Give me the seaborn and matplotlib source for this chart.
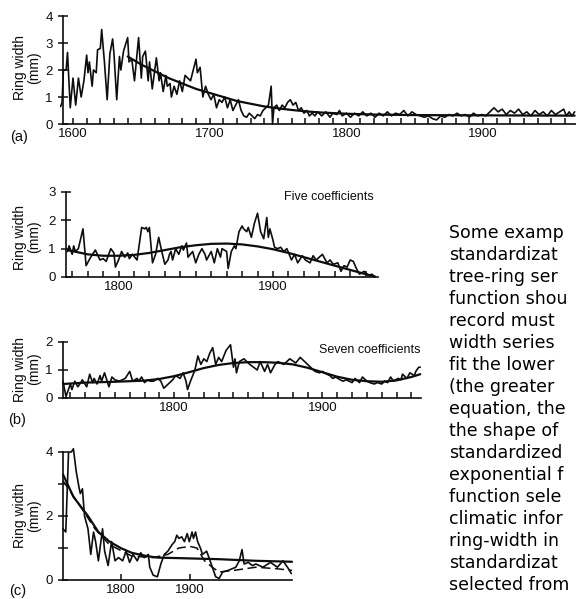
import matplotlib
matplotlib.use("Agg")
import matplotlib.pyplot as plt
import seaborn as sns
import pandas as pd
from matplotlib.ticker import FixedLocator, NullFormatter

# ---------------------------------------------------------------- data
# (a) long ring-width series with a negative-exponential growth curve
a_years = [1591, 1592, 1593, 1595, 1596, 1598, 1600, 1602, 1604, 1606, 1608, 1610,
           1611, 1612, 1614, 1615, 1617, 1618, 1620, 1621, 1623, 1625, 1627, 1629,
           1630, 1632, 1634, 1635, 1637, 1640, 1641, 1643, 1645, 1648, 1650, 1651,
           1653, 1655, 1656, 1658, 1661, 1663, 1664, 1666, 1668, 1669, 1671, 1672,
           1674, 1676, 1678, 1680, 1682, 1684, 1686, 1688, 1690, 1691, 1693, 1695,
           1697, 1699, 1701, 1703, 1705, 1707, 1709, 1711, 1713, 1715, 1717, 1719,
           1721, 1723, 1725, 1727, 1729, 1731, 1733, 1735, 1737, 1739, 1741, 1743,
           1745, 1746, 1747, 1749, 1751, 1753, 1755, 1757, 1759, 1761, 1763, 1765,
           1767, 1769, 1771, 1773, 1775, 1777, 1779, 1782, 1785, 1788, 1790, 1793,
           1795, 1797, 1800, 1803, 1806, 1809, 1812, 1815, 1818, 1821, 1824, 1827,
           1830, 1833, 1836, 1839, 1842, 1845, 1848, 1851, 1854, 1857, 1860, 1863,
           1866, 1869, 1872, 1875, 1878, 1881, 1884, 1887, 1890, 1893, 1896, 1899,
           1902, 1905, 1908, 1911, 1914, 1917, 1920, 1923, 1926, 1929, 1932, 1935,
           1938, 1941, 1944, 1947, 1950, 1953, 1956, 1959, 1961, 1963, 1965, 1967]
a_width = [0.65, 0.8, 2.0, 2.0, 2.65, 0.6, 1.7, 0.7, 1.7, 1.0, 1.6, 2.55,
           1.9, 2.3, 1.4, 2.0, 1.9, 2.75, 2.8, 3.5, 2.3, 0.9, 2.6, 3.15,
           2.6, 0.9, 2.5, 2.0, 2.7, 3.2, 2.3, 2.4, 1.6, 3.2, 1.7, 2.5,
           2.7, 1.6, 2.3, 1.3, 2.45, 1.6, 1.9, 1.2, 1.8, 1.4, 1.5, 1.0,
           1.4, 1.1, 1.6, 1.2, 1.8, 1.7, 1.6, 2.0, 2.4, 1.9, 2.1, 1.0,
           1.4, 1.1, 0.9, 1.1, 0.6, 0.9, 0.8, 1.0, 0.6, 0.9, 0.5, 0.7,
           0.9, 0.5, 0.3, 0.25, 0.4, 0.3, 0.2, 0.35, 0.3, 0.5, 0.6, 0.7,
           1.4, 0.0, 0.6, 0.7, 0.5, 0.7, 0.6, 0.8, 0.9, 0.7, 0.8, 0.5,
           0.6, 0.4, 0.5, 0.3, 0.4, 0.3, 0.45, 0.3, 0.45, 0.25, 0.4, 0.35,
           0.5, 0.3, 0.4, 0.25, 0.4, 0.3, 0.45, 0.3, 0.4, 0.25, 0.4, 0.3,
           0.45, 0.3, 0.4, 0.35, 0.5, 0.3, 0.45, 0.35, 0.3, 0.25, 0.3, 0.2,
           0.15, 0.3, 0.25, 0.35, 0.3, 0.4, 0.3, 0.35, 0.25, 0.4, 0.3, 0.35,
           0.3, 0.45, 0.6, 0.45, 0.55, 0.35, 0.5, 0.4, 0.55, 0.35, 0.45, 0.3,
           0.5, 0.35, 0.45, 0.3, 0.5, 0.35, 0.45, 0.55, 0.3, 0.45, 0.3, 0.45]
a_fit_years = [1640, 1650, 1660, 1670, 1680, 1690, 1700, 1710, 1720, 1730, 1740,
               1750, 1760, 1770, 1780, 1800, 1820, 1850, 1900, 1967]
a_fit = [2.5, 2.2, 1.95, 1.7, 1.5, 1.3, 1.15, 1.0, 0.85, 0.75, 0.65,
         0.58, 0.52, 0.47, 0.43, 0.38, 0.35, 0.33, 0.32, 0.31]

# (b, upper) series with a five-coefficient polynomial
b5_years = [1767, 1768, 1770, 1771, 1772, 1774, 1777, 1779, 1782, 1785, 1788, 1790,
            1792, 1795, 1797, 1798, 1800, 1802, 1804, 1806, 1807, 1809, 1812, 1815,
            1817, 1818, 1819, 1820, 1822, 1824, 1826, 1828, 1830, 1832, 1833, 1834,
            1835, 1837, 1839, 1841, 1842, 1844, 1845, 1848, 1850, 1852, 1854, 1856,
            1857, 1860, 1862, 1864, 1866, 1867, 1870, 1871, 1873, 1875, 1876, 1878,
            1880, 1881, 1883, 1884, 1886, 1888, 1890, 1892, 1894, 1896, 1897, 1898,
            1900, 1901, 1903, 1905, 1907, 1909, 1912, 1914, 1916, 1919, 1921, 1924,
            1926, 1928, 1932, 1935, 1937, 1939, 1942, 1944, 1946, 1948, 1950, 1952,
            1954, 1956, 1959, 1962, 1964, 1966]
b5_width = [0.9, 1.1, 0.8, 1.1, 0.9, 1.0, 1.7, 0.4, 0.7, 0.95, 0.6, 0.65,
            0.55, 1.0, 0.85, 0.35, 0.6, 0.9, 0.7, 0.85, 0.65, 0.8, 0.6, 1.75,
            1.7, 1.75, 1.6, 1.75, 0.5, 0.8, 1.4, 0.9, 0.45, 0.6, 0.8, 0.9,
            0.6, 1.0, 0.8, 1.1, 0.95, 1.2, 0.7, 0.9, 0.5, 0.8, 1.0, 0.8,
            0.6, 0.9, 0.5, 1.0, 0.7, 1.0, 0.9, 0.3, 0.9, 1.1, 1.0, 1.6,
            1.8, 1.7, 1.6, 1.75, 1.4, 1.9, 2.25, 1.6, 1.35, 2.1, 1.4, 1.7,
            1.3, 1.05, 1.0, 1.05, 0.9, 1.0, 0.6, 0.8, 0.5, 0.75, 0.6, 0.5,
            0.75, 0.6, 0.8, 0.5, 0.6, 0.45, 0.5, 0.2, 0.4, 0.35, 0.6, 0.55,
            0.3, 0.1, 0.2, 0.05, 0.1, 0.0]
b5_fit_years = [1767, 1780, 1790, 1800, 1810, 1820, 1830, 1840, 1850, 1860, 1870,
                1880, 1890, 1900, 1910, 1920, 1930, 1940, 1950, 1960, 1966]
b5_fit = [0.95, 0.8, 0.75, 0.75, 0.78, 0.85, 0.95, 1.05, 1.12, 1.17, 1.18,
          1.15, 1.08, 0.98, 0.85, 0.7, 0.55, 0.4, 0.25, 0.1, 0.02]

# (b, lower) series with a seven-coefficient polynomial
b7_years = [1725, 1727, 1730, 1731, 1733, 1735, 1737, 1738, 1741, 1743, 1745, 1746,
            1748, 1750, 1751, 1753, 1756, 1758, 1760, 1763, 1767, 1770, 1772, 1775,
            1776, 1778, 1780, 1782, 1784, 1786, 1789, 1791, 1793, 1796, 1799, 1801,
            1804, 1806, 1808, 1809, 1811, 1814, 1816, 1818, 1820, 1822, 1824, 1826,
            1828, 1830, 1832, 1835, 1838, 1840, 1841, 1842, 1844, 1847, 1851, 1856,
            1858, 1861, 1863, 1865, 1868, 1870, 1874, 1878, 1882, 1885, 1888, 1890,
            1893, 1895, 1898, 1900, 1903, 1905, 1907, 1909, 1912, 1914, 1916, 1920,
            1922, 1925, 1927, 1930, 1932, 1935, 1937, 1940, 1942, 1944, 1946, 1948,
            1951, 1953, 1954, 1957, 1959, 1962, 1963, 1965, 1966]
b7_width = [0.6, 0.05, 0.5, 0.3, 0.6, 0.4, 0.55, 0.65, 0.4, 0.85, 0.55, 0.7,
            0.5, 0.8, 0.6, 0.9, 0.4, 0.75, 0.65, 0.6, 0.7, 0.95, 0.6, 0.7,
            0.6, 0.75, 0.55, 0.65, 0.6, 0.6, 0.7, 0.6, 0.35, 0.5, 0.65, 0.8,
            0.7, 0.9, 0.6, 0.3, 0.6, 1.0, 1.5, 1.2, 1.4, 1.3, 1.6, 1.8,
            1.2, 1.45, 1.3, 1.7, 1.9, 1.1, 1.4, 0.9, 1.3, 1.4, 1.2, 1.0,
            1.3, 0.95, 1.2, 0.9, 1.2, 1.3, 1.2, 1.4, 1.25, 1.45, 1.3, 1.2,
            1.05, 0.95, 0.9, 0.95, 0.85, 0.8, 0.7, 0.75, 0.65, 0.6, 0.65, 0.55,
            0.7, 0.55, 0.75, 0.6, 0.55, 0.5, 0.55, 0.5, 0.6, 0.55, 0.75, 0.6,
            0.7, 0.65, 0.85, 0.7, 0.9, 0.8, 0.95, 1.1, 1.1]
b7_fit_years = [1725, 1740, 1760, 1780, 1790, 1800, 1810, 1820, 1830, 1840, 1850,
                1860, 1870, 1880, 1890, 1900, 1910, 1920, 1930, 1940, 1950, 1960, 1966]
b7_fit = [0.5, 0.55, 0.58, 0.62, 0.68, 0.78, 0.92, 1.07, 1.18, 1.25, 1.28,
          1.28, 1.26, 1.2, 1.08, 0.92, 0.76, 0.65, 0.6, 0.58, 0.63, 0.75, 0.85]

# (c) series with two alternative growth curves
c_years = [1717, 1721, 1725, 1729, 1732, 1736, 1740, 1742, 1745, 1748, 1753, 1757,
           1761, 1764, 1768, 1774, 1777, 1782, 1787, 1792, 1797, 1803, 1808, 1813,
           1818, 1824, 1829, 1834, 1840, 1842, 1847, 1853, 1858, 1863, 1868, 1874,
           1878, 1881, 1884, 1888, 1892, 1896, 1899, 1903, 1905, 1908, 1911, 1915,
           1918, 1924, 1929, 1937, 1942, 1947, 1955, 1966, 1971, 1975, 1978, 1984,
           1990, 1995, 2005, 2016, 2026, 2034, 2042, 2046]
c_width = [1.6, 1.5, 4.0, 4.0, 4.1, 3.4, 2.9, 2.7, 2.85, 2.0, 1.6, 0.8,
           1.5, 1.2, 0.6, 1.6, 0.9, 0.45, 1.2, 0.6, 0.7, 0.6, 0.9, 0.55,
           0.8, 0.6, 0.85, 0.7, 0.8, 0.4, 0.15, 0.1, 0.5, 0.8, 0.9, 1.1,
           1.2, 1.4, 1.3, 1.35, 1.2, 1.45, 1.2, 1.5, 1.3, 1.5, 1.2, 1.0,
           0.8, 0.9, 0.6, 0.1, 0.05, 0.25, 0.3, 0.4, 0.6, 0.95, 0.5, 0.55,
           0.45, 0.5, 0.4, 0.55, 0.4, 0.6, 0.35, 0.2]
c_exp_years = [1717, 1732, 1753, 1768, 1784, 1800, 1816, 1837, 1853, 1890, 1942, 1995, 2047]
c_exp = [3.3, 2.6, 2.0, 1.5, 1.2, 1.0, 0.85, 0.75, 0.7, 0.68, 0.65, 0.6, 0.57]
c_flex_years = [1717, 1742, 1763, 1784, 1816, 1847, 1868, 1884, 1900, 1910, 1921,
                1932, 1942, 1963, 1995, 2026, 2047]
c_flex = [3.1, 2.3, 1.6, 1.1, 0.75, 0.7, 0.8, 1.0, 1.05, 1.0, 0.6,
          0.4, 0.25, 0.3, 0.4, 0.35, 0.3]

text_lines = ["Some examp", "standardizat", "tree-ring ser", "function shou",
              "record must", "width series", "fit the lower", "(the greater",
              "equation, the", "the shape of", "standardized", "exponential f",
              "function sele", "climatic infor", "ring-width in", "standardizat",
              "selected from"]

# ---------------------------------------------------------------- style
W, H = 576, 599
sns.set_theme(style="ticks")
plt.rcParams["font.family"] = ["Liberation Sans", "DejaVu Sans"]
INK = "#0d0d0d"
plt.rcParams.update({"axes.edgecolor": INK, "xtick.color": INK, "ytick.color": INK,
                     "text.color": INK, "axes.linewidth": 1.2})

fig = plt.figure(figsize=(W / 100, H / 100), dpi=100)
fig.patch.set_facecolor("white")


def panel(left, right, top, bottom):
    """Axes placed by pixel edges (y measured from the top)."""
    return fig.add_axes([left / W, 1 - bottom / H, (right - left) / W, (bottom - top) / H])


def style(ax, xlim, ylim, xmajor, xminor, yticks, ylabels, yminor=None):
    ax.set_xlim(*xlim)
    ax.set_ylim(*ylim)
    ax.set_facecolor("none")
    sns.despine(ax=ax)
    ax.xaxis.set_major_locator(FixedLocator(xmajor))
    ax.xaxis.set_minor_locator(FixedLocator(xminor))
    ax.xaxis.set_minor_formatter(NullFormatter())
    ax.set_xticklabels([str(v) for v in xmajor])
    ax.yaxis.set_major_locator(FixedLocator(yticks))
    ax.set_yticklabels(ylabels)
    if yminor is not None:
        ax.yaxis.set_minor_locator(FixedLocator(yminor))
        ax.tick_params(axis="y", which="minor", direction="inout", length=7, width=1.1)
    ax.tick_params(axis="x", which="both", direction="in", length=4.5, width=1.1,
                   labelsize=9.5, pad=3)
    ax.tick_params(axis="y", which="major", direction="inout", length=7, width=1.1,
                   labelsize=9.5, pad=4)
    ax.set_xlabel("")
    ax.set_ylabel("")


def draw(ax, x, y, lw=1.2, ls="-"):
    df = pd.DataFrame({"year": x, "width": y})
    sns.lineplot(data=df, x="year", y="width", ax=ax, color=INK, lw=lw,
                 linestyle=ls, estimator=None, sort=False, clip_on=False)


def ylabel(xc, yc):
    fig.text(xc / W, 1 - yc / H, "Ring width\n(mm)", rotation=90, ha="center",
             va="center", fontsize=10, linespacing=1.0)


def letter(xc, yc, s):
    fig.text(xc / W, 1 - yc / H, s, ha="center", va="center", fontsize=10.5)


# (a)
ax_a = panel(63, 576, 16, 124)
draw(ax_a, a_years, a_width, lw=1.2)
draw(ax_a, a_fit_years, a_fit, lw=1.6)
style(ax_a, (1592.7, 1968), (0, 4), [1600, 1700, 1800, 1900],
      list(range(1600, 1970, 10)), [0, 1, 2, 3, 4], ["0", "1", "2", "3", "4"])
ylabel(27, 68)
letter(19, 137, "(a)")

# (b) five coefficients
ax_b5 = panel(66, 378, 192, 277)
draw(ax_b5, b5_years, b5_width, lw=1.2)
draw(ax_b5, b5_fit_years, b5_fit, lw=1.6)
style(ax_b5, (1766, 1968), (0, 3), [1800, 1900],
      list(range(1770, 1970, 10)), [0, 1, 2, 3], ["0", "1", "2", "3"])
ylabel(27, 237)
fig.text(329 / W, 1 - 197 / H, "Five coefficients", ha="center", va="center", fontsize=9)

# (b) seven coefficients
ax_b7 = panel(63, 421, 342, 398)
draw(ax_b7, b7_years, b7_width, lw=1.2)
draw(ax_b7, b7_fit_years, b7_fit, lw=1.6)
style(ax_b7, (1725, 1966.5), (0, 2), [1800, 1900],
      list(range(1730, 1970, 10)), [0, 1, 2], ["0", "1", "2"])
ylabel(27, 369)
fig.text(370 / W, 1 - 350 / H, "Seven coefficients", ha="center", va="center", fontsize=9)
letter(17, 420, "(b)")

# (c)
ax_c = panel(63, 292, 452, 580)
draw(ax_c, c_years, c_width, lw=1.2)
draw(ax_c, c_exp_years, c_exp, lw=1.6)
draw(ax_c, c_flex_years, c_flex, lw=1.1, ls=(0, (6, 3)))
style(ax_c, (1717, 2047), (0, 4), [1800, 1900], [1800, 1900],
      [0, 2, 4], ["0", "2", "4"], yminor=[1, 3])
ylabel(27, 516)
letter(18, 591, "(c)")

# caption column running off the right edge
for i, line in enumerate(text_lines):
    fig.text(449 / W, 1 - (233 + i * 22.0) / H, line, ha="left", va="center",
             fontsize=12.5, family=["DejaVu Sans"], color="black")

fig.savefig("out.png", dpi=100, facecolor="white")
